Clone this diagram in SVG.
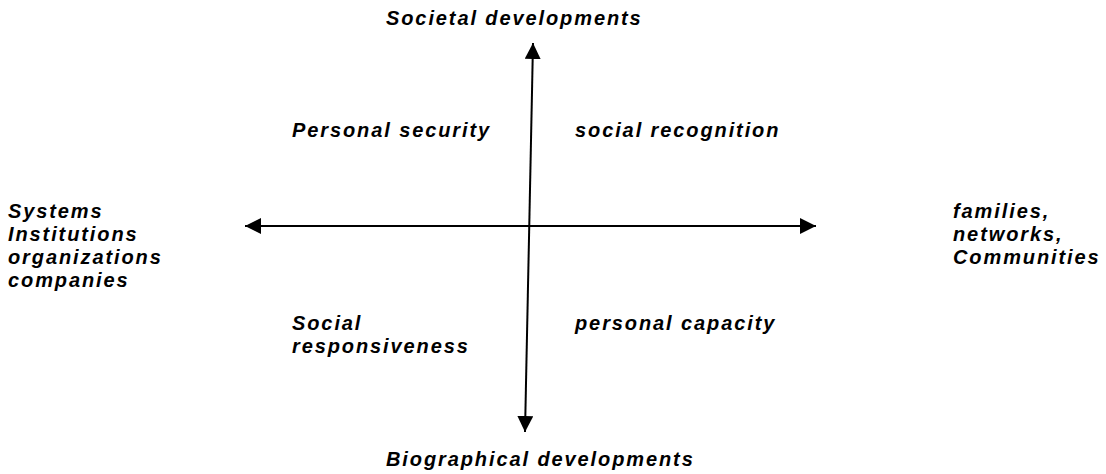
<svg xmlns="http://www.w3.org/2000/svg" width="1106" height="474" viewBox="0 0 1106 474">
<style>
text{font-family:"Liberation Sans",Arial,sans-serif;font-size:20px;font-weight:bold;font-style:italic;letter-spacing:1.9px;fill:#000}
.ax{stroke:#000;stroke-width:2;fill:none}
</style>
<defs>
<marker id="ah" viewBox="0 0 10 10" refX="10" refY="5" markerWidth="8" markerHeight="8" markerUnits="strokeWidth" orient="auto">
<path d="M0,0 L10,5 L0,10 Z" fill="#000"/>
</marker>
</defs>
<rect width="1106" height="474" fill="#fff"/>
<g id="connectors">
<line class="ax" x1="529" y1="238" x2="533" y2="43" marker-end="url(#ah)"/>
<line class="ax" x1="529" y1="238" x2="525" y2="432" marker-end="url(#ah)"/>
<line class="ax" x1="530" y1="226" x2="245" y2="226" marker-end="url(#ah)"/>
<line class="ax" x1="530" y1="226" x2="816" y2="226" marker-end="url(#ah)"/>
</g>
<g id="top"><text x="386" y="25">Societal developments</text></g>
<g id="bottom"><text x="386" y="466">Biographical developments</text></g>
<g id="left"><text x="8" y="218">Systems</text><text x="8" y="241">Institutions</text><text x="8" y="264">organizations</text><text x="8" y="287">companies</text></g>
<g id="right"><text x="953" y="218">families,</text><text x="953" y="241">networks,</text><text x="953" y="264">Communities</text></g>
<g id="q1"><text x="292" y="137">Personal security</text></g>
<g id="q2"><text x="575" y="137">social recognition</text></g>
<g id="q3"><text x="292" y="330">Social</text><text x="292" y="353">responsiveness</text></g>
<g id="q4"><text x="575" y="330">personal capacity</text></g>
</svg>
